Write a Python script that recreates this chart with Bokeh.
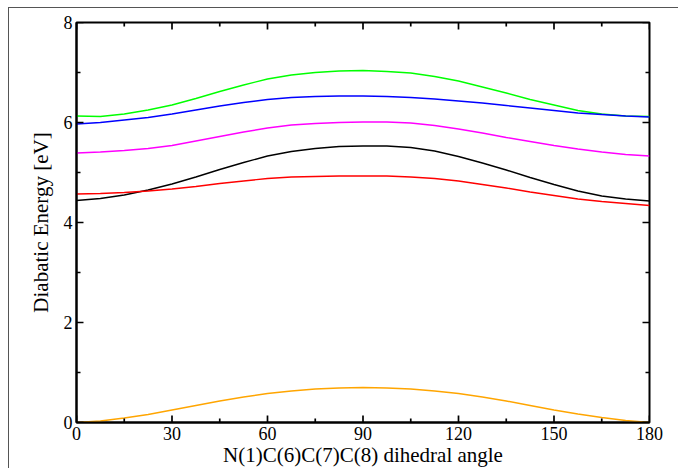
from bokeh.plotting import figure
from bokeh.models import FixedTicker, Range1d
from bokeh.embed import file_html
from bokeh.resources import INLINE

angle = [0, 7.5, 15, 22.5, 30, 37.5, 45, 52.5, 60, 67.5, 75, 82.5, 90,
         97.5, 105, 112.5, 120, 127.5, 135, 142.5, 150, 157.5, 165, 172.5, 180]
green = [6.13, 6.12, 6.17, 6.25, 6.35, 6.48, 6.62, 6.75, 6.87, 6.95, 7.00, 7.03, 7.04,
         7.02, 6.99, 6.92, 6.83, 6.71, 6.59, 6.46, 6.35, 6.24, 6.17, 6.13, 6.12]
blue = [5.97, 6.00, 6.05, 6.10, 6.17, 6.25, 6.33, 6.40, 6.46, 6.50, 6.52, 6.53, 6.53,
        6.52, 6.50, 6.47, 6.43, 6.39, 6.34, 6.29, 6.24, 6.19, 6.16, 6.13, 6.11]
magenta = [5.39, 5.41, 5.44, 5.48, 5.54, 5.63, 5.72, 5.81, 5.89, 5.95, 5.98, 6.00, 6.01,
           6.01, 5.99, 5.94, 5.87, 5.79, 5.70, 5.62, 5.54, 5.47, 5.41, 5.36, 5.33]
black = [4.44, 4.48, 4.55, 4.65, 4.77, 4.91, 5.06, 5.20, 5.33, 5.42, 5.48, 5.52, 5.53,
         5.53, 5.50, 5.43, 5.32, 5.19, 5.05, 4.90, 4.76, 4.63, 4.53, 4.47, 4.43]
red = [4.57, 4.58, 4.60, 4.63, 4.67, 4.72, 4.78, 4.83, 4.88, 4.91, 4.92, 4.93, 4.93,
       4.93, 4.91, 4.88, 4.83, 4.76, 4.69, 4.61, 4.54, 4.47, 4.42, 4.38, 4.34]
orange = [0.00, 0.03, 0.09, 0.16, 0.25, 0.34, 0.43, 0.51, 0.58, 0.63, 0.67, 0.69, 0.70,
          0.69, 0.67, 0.63, 0.58, 0.51, 0.43, 0.34, 0.25, 0.17, 0.10, 0.04, 0.00]

x_major = [0, 30, 60, 90, 120, 150, 180]
y_major = [0, 2, 4, 6, 8]
x_minor = [15, 45, 75, 105, 135, 165]
y_minor = [1, 3, 5, 7]

FONT = "Liberation Serif"
XMIN, XMAX, YMIN, YMAX = 0, 180, 0, 8

p = figure(width=670, height=461, output_backend="svg", toolbar_location=None,
           x_range=Range1d(XMIN, XMAX), y_range=Range1d(YMIN, YMAX),
           min_border_left=67, min_border_right=30, min_border_top=14, min_border_bottom=46,
           x_axis_label="N(1)C(6)C(7)C(8) dihedral angle",
           y_axis_label="Diabatic Energy [eV]")
p.margin = (7, 0, 0, 8)
p.styles = {"border-left": "1px solid #555555", "border-top": "1px solid #555555"}
p.grid.visible = False
p.outline_line_color = "black"
p.outline_line_width = 2

for col, ys in [("#00ff00", green), ("#0000ff", blue), ("#ff00ff", magenta),
                ("black", black), ("#ff0000", red), ("#ffa500", orange)]:
    p.line(angle, ys, line_color=col, line_width=1.4)

# inward tick marks on all four sides (lengths as fractions of the ranges)
xspan, yspan = XMAX - XMIN, YMAX - YMIN
maj_y, min_y = 0.0175 * yspan, 0.010 * yspan    # vertical tick lengths (x ticks)
maj_x, min_x = 0.0122 * xspan, 0.007 * xspan    # horizontal tick lengths (y ticks)
for ticks, L in [(x_major, maj_y), (x_minor, min_y)]:
    p.segment(x0=ticks, x1=ticks, y0=[YMIN] * len(ticks), y1=[YMIN + L] * len(ticks),
              line_color="black", line_width=1.7)
    p.segment(x0=ticks, x1=ticks, y0=[YMAX] * len(ticks), y1=[YMAX - L] * len(ticks),
              line_color="black", line_width=1.7)
for ticks, L in [(y_major, maj_x), (y_minor, min_x)]:
    p.segment(y0=ticks, y1=ticks, x0=[XMIN] * len(ticks), x1=[XMIN + L] * len(ticks),
              line_color="black", line_width=1.7)
    p.segment(y0=ticks, y1=ticks, x0=[XMAX] * len(ticks), x1=[XMAX - L] * len(ticks),
              line_color="black", line_width=1.7)

for ax, maj, mnr in [(p.xaxis[0], x_major, x_minor), (p.yaxis[0], y_major, y_minor)]:
    ax.ticker = FixedTicker(ticks=maj, minor_ticks=mnr)
    ax.axis_line_color = "black"
    ax.axis_line_width = 2
    ax.major_tick_line_color = None
    ax.minor_tick_line_color = None
    ax.major_tick_out = 0
    ax.minor_tick_out = 0
    ax.major_label_text_font = FONT
    ax.major_label_text_font_size = "18px"
    ax.major_label_text_color = "black"
    ax.axis_label_text_font = FONT
    ax.axis_label_text_font_size = "21px"
    ax.axis_label_text_font_style = "normal"
    ax.axis_label_text_color = "black"

p.xaxis[0].major_label_standoff = 4
p.xaxis[0].axis_label_standoff = 0
p.yaxis[0].major_label_standoff = 4
p.yaxis[0].axis_label_standoff = 8

open("out.html", "w").write(file_html(p, INLINE))
